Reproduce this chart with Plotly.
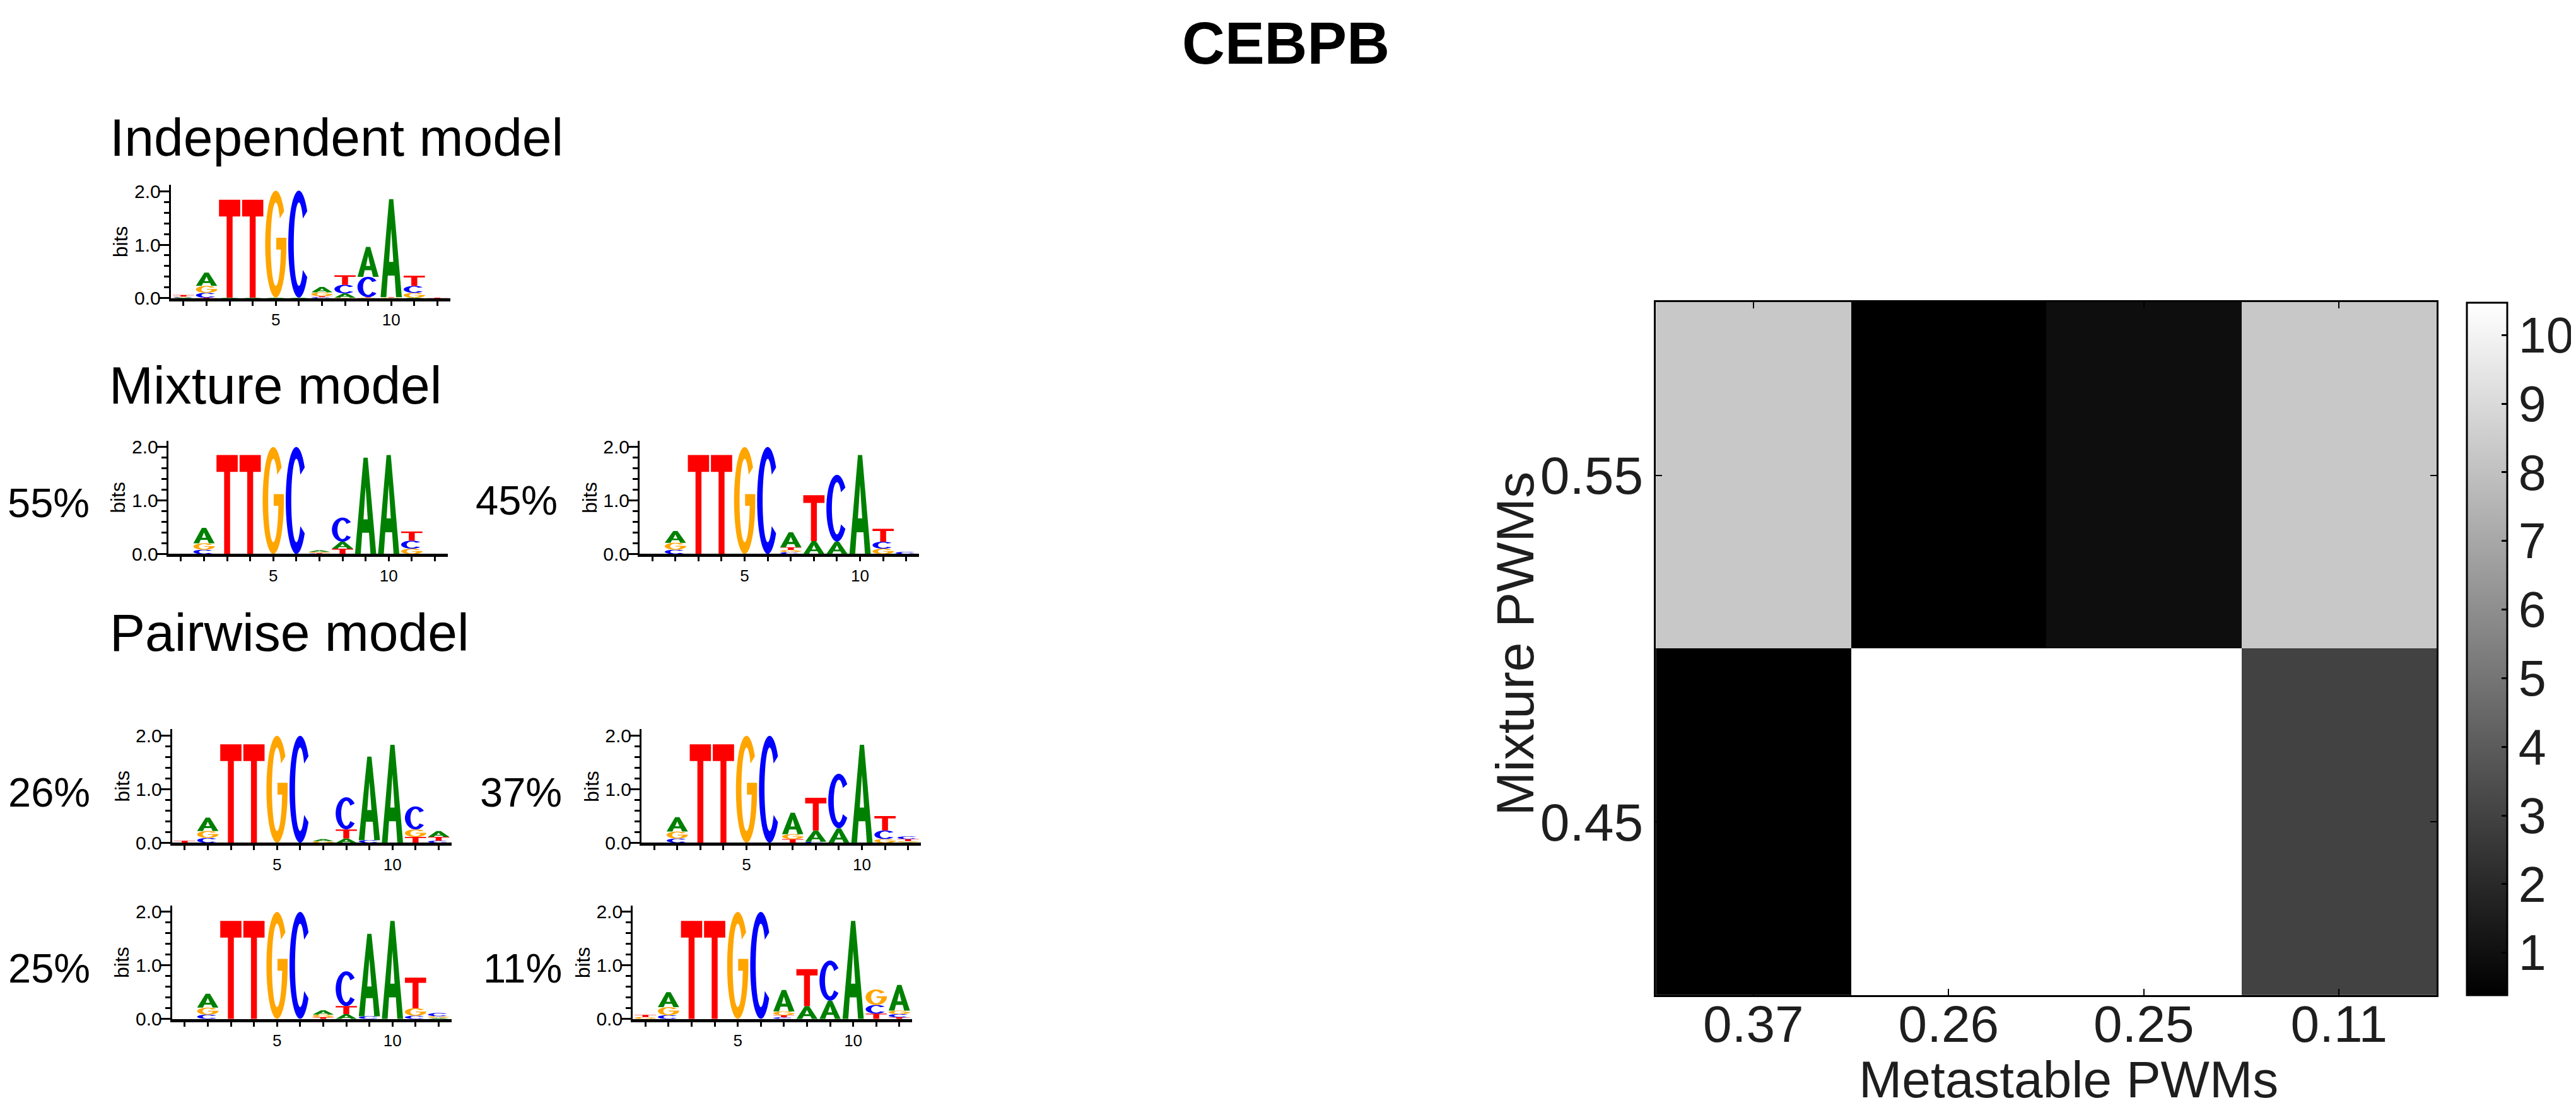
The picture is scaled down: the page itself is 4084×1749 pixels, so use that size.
import math
import plotly.graph_objects as go

W, H = 4084, 1749
FONT = "Liberation Sans, Arial, Helvetica, sans-serif"

# ---- sequence logo data (bits per letter, positions 1..12) ----
positions = list(range(1, 13))

ind_A = [0.01, 0.25, 0.01, 0.01, 0.01, 0.01, 0.10, 0.08, 0.56, 1.83, 0.01, 0.0]
ind_C = [0.01, 0.09, 0.0, 0.0, 0.0, 2.0, 0.02, 0.16, 0.38, 0.0, 0.13, 0.0]
ind_G = [0.01, 0.13, 0.0, 0.0, 2.0, 0.0, 0.07, 0.01, 0.01, 0.01, 0.09, 0.0]
ind_T = [0.03, 0.01, 1.83, 1.83, 0.0, 0.0, 0.02, 0.18, 0.01, 0.01, 0.19, 0.01]

mix1_A = [0.0, 0.29, 0.0, 0.0, 0.0, 0.0, 0.03, 0.13, 1.80, 1.85, 0.0, 0.0]
mix1_C = [0.0, 0.08, 0.0, 0.0, 0.0, 2.0, 0.01, 0.45, 0.0, 0.0, 0.15, 0.0]
mix1_G = [0.0, 0.12, 0.0, 0.0, 2.0, 0.0, 0.02, 0.0, 0.0, 0.0, 0.10, 0.0]
mix1_T = [0.0, 0.0, 1.85, 1.85, 0.0, 0.0, 0.01, 0.10, 0.0, 0.0, 0.17, 0.0]

mix2_A = [0.0, 0.22, 0.0, 0.0, 0.0, 0.0, 0.28, 0.24, 0.23, 1.85, 0.0, 0.0]
mix2_C = [0.0, 0.08, 0.0, 0.0, 0.0, 2.0, 0.035, 0.0, 1.25, 0.0, 0.13, 0.04]
mix2_G = [0.0, 0.13, 0.0, 0.0, 2.0, 0.0, 0.04, 0.0, 0.0, 0.0, 0.10, 0.0]
mix2_T = [0.0, 0.0, 1.85, 1.85, 0.0, 0.0, 0.05, 0.86, 0.0, 0.0, 0.24, 0.0]

pw1_A = [0.0, 0.25, 0.0, 0.0, 0.0, 0.0, 0.04, 0.08, 1.56, 1.83, 0.0, 0.11]
pw1_C = [0.0, 0.09, 0.0, 0.0, 0.0, 2.0, 0.0, 0.60, 0.05, 0.0, 0.43, 0.04]
pw1_G = [0.0, 0.13, 0.0, 0.0, 2.0, 0.0, 0.03, 0.0, 0.0, 0.0, 0.14, 0.0]
pw1_T = [0.04, 0.0, 1.84, 1.84, 0.0, 0.0, 0.0, 0.17, 0.0, 0.0, 0.11, 0.07]

pw2_A = [0.0, 0.27, 0.0, 0.0, 0.0, 0.0, 0.40, 0.21, 0.27, 1.83, 0.0, 0.01]
pw2_C = [0.0, 0.08, 0.0, 0.0, 0.0, 2.0, 0.0, 0.02, 1.02, 0.0, 0.16, 0.05]
pw2_G = [0.0, 0.13, 0.0, 0.0, 2.0, 0.0, 0.09, 0.0, 0.0, 0.0, 0.07, 0.02]
pw2_T = [0.0, 0.0, 1.84, 1.84, 0.0, 0.0, 0.07, 0.61, 0.0, 0.0, 0.27, 0.04]

pw3_A = [0.0, 0.26, 0.0, 0.0, 0.0, 0.0, 0.08, 0.09, 1.54, 1.83, 0.0, 0.02]
pw3_C = [0.0, 0.08, 0.0, 0.0, 0.0, 2.0, 0.0, 0.65, 0.05, 0.0, 0.06, 0.06]
pw3_G = [0.0, 0.13, 0.0, 0.0, 2.0, 0.0, 0.05, 0.0, 0.0, 0.0, 0.14, 0.03]
pw3_T = [0.0, 0.0, 1.83, 1.83, 0.0, 0.0, 0.03, 0.15, 0.0, 0.0, 0.57, 0.0]

pw4_A = [0.0, 0.28, 0.0, 0.0, 0.0, 0.0, 0.40, 0.24, 0.34, 1.83, 0.0, 0.48]
pw4_C = [0.0, 0.07, 0.0, 0.0, 0.0, 2.0, 0.03, 0.0, 0.75, 0.0, 0.16, 0.06]
pw4_G = [0.035, 0.15, 0.0, 0.0, 2.0, 0.0, 0.07, 0.0, 0.0, 0.0, 0.29, 0.065]
pw4_T = [0.04, 0.0, 1.83, 1.83, 0.0, 0.0, 0.04, 0.69, 0.0, 0.0, 0.10, 0.03]

weights = ["55%", "45%", "26%", "37%", "25%", "11%"]
section_titles = ["Independent model", "Mixture model", "Pairwise model"]

# ---- heatmap data ----
metastable = ["0.37", "0.26", "0.25", "0.11"]
mixture = ["0.45", "0.55"]
divergence = [
    [0.38, 10.47, 10.47, 3.0],
    [8.3, 0.38, 0.95, 8.3],
]

COLORS = {"A": "#008000", "C": "#0000ff", "G": "#ffa500", "T": "#ff0000"}


def arc(cx, cy, rx, ry, a0, a1, n=40):
    pts = []
    for i in range(n + 1):
        a = math.radians(a0 + (a1 - a0) * i / n)
        pts.append((cx + rx * math.cos(a), cy + ry * math.sin(a)))
    return pts


# letter outlines in a unit box
GLYPHS = {
    "T": ([[(0, 1), (1, 1), (1, 0.83), (0.64, 0.83), (0.64, 0), (0.36, 0), (0.36, 0.83), (0, 0.83)]], "nonzero"),
    "A": ([[(0, 0), (0.27, 0), (0.34, 0.22), (0.66, 0.22), (0.73, 0), (1, 0), (0.6, 1), (0.4, 1)],
           [(0.40, 0.36), (0.60, 0.36), (0.5, 0.70)]], "evenodd"),
    "C": ([arc(0.5, 0.5, 0.5, 0.5, 38, 322) + arc(0.5, 0.5, 0.24, 0.39, 322, 38)], "nonzero"),
    "G": ([arc(0.5, 0.5, 0.5, 0.5, 38, 360)
           + [(1.0, 0.56), (0.52, 0.56), (0.52, 0.45), (0.74, 0.45)]
           + arc(0.5, 0.5, 0.24, 0.39, 340, 38)], "nonzero"),
}


def letter_path(letter, pos, y0, h):
    x0, w = pos - 0.46, 0.92
    out = ""
    for poly in GLYPHS[letter][0]:
        pts = ["%.4f,%.4f" % (x0 + u * w, y0 + v * h) for u, v in poly]
        out += "M" + "L".join(pts) + "Z"
    return out


def sfx(n):
    return "" if n == 1 else str(n)


BIT_PX = 86
YMAX = 2.12
LOGO_W = 445

logos = [
    (ind_A, ind_C, ind_G, ind_T, 264, 465),
    (mix1_A, mix1_C, mix1_G, mix1_T, 260, 876),
    (mix2_A, mix2_C, mix2_G, mix2_T, 1011, 876),
    (pw1_A, pw1_C, pw1_G, pw1_T, 266, 1340),
    (pw2_A, pw2_C, pw2_G, pw2_T, 1014, 1340),
    (pw3_A, pw3_C, pw3_G, pw3_T, 266, 1623),
    (pw4_A, pw4_C, pw4_G, pw4_T, 1000, 1623),
]

fig = go.Figure()
shapes = []
annotations = []
layout_axes = {}

for n, (a, c, g, t, left, base) in enumerate(logos, start=1):
    s = sfx(n)
    fig.add_trace(go.Scatter(x=[None], y=[None], xaxis="x" + s, yaxis="y" + s,
                             showlegend=False, hoverinfo="skip"))
    for i, pos in enumerate(positions):
        stack = sorted([("A", a[i]), ("C", c[i]), ("G", g[i]), ("T", t[i])], key=lambda kv: kv[1])
        y0 = 0.0
        for letter, h in stack:
            if h <= 0.005:
                continue
            shapes.append(dict(type="path", path=letter_path(letter, pos, y0, h),
                               xref="x" + s, yref="y" + s, fillcolor=COLORS[letter],
                               line=dict(width=0), fillrule=GLYPHS[letter][1], layer="above"))
            y0 += h
    top = base - YMAX * BIT_PX
    layout_axes["xaxis" + s] = dict(
        domain=[left / W, (left + LOGO_W) / W], anchor="y" + s, range=[0.45, 12.55],
        showline=True, linecolor="black", linewidth=5, ticks="outside", ticklen=7,
        tickwidth=3, tickcolor="black", tickvals=positions,
        ticktext=[str(p) if p in (5, 10) else "" for p in positions],
        tickfont=dict(size=26, color="black"), showgrid=False, zeroline=False, fixedrange=True)
    layout_axes["yaxis" + s] = dict(
        domain=[1 - base / H, 1 - top / H], anchor="x" + s, range=[0, YMAX],
        showline=True, linecolor="black", linewidth=3, ticks="outside", ticklen=16,
        tickwidth=3, tickcolor="black", tickvals=[0, 1, 2], ticktext=["0.0", "1.0", "2.0"],
        ticklabelstandoff=-9,
        minor=dict(tickvals=[0.2, 0.4, 0.6, 0.8, 1.2, 1.4, 1.6, 1.8], ticks="outside",
                   ticklen=8, tickwidth=3, tickcolor="black", showgrid=False),
        tickfont=dict(size=30, color="black"), showgrid=False, zeroline=False, fixedrange=True)
    annotations.append(dict(text="bits", x=(left - 80) / W, y=1 - (base - 91) / H,
                            xref="paper", yref="paper", textangle=-90, showarrow=False,
                            font=dict(size=32, color="black"), xanchor="center", yanchor="middle"))

# mixture weights next to each logo
weight_pos = [(137, 794), (882, 790), (138, 1259), (889, 1259), (138, 1542), (889, 1542)]
for txt, (xr, yc) in zip(weights, weight_pos):
    annotations.append(dict(text=txt, x=xr / W, y=1 - yc / H, xref="paper", yref="paper",
                            showarrow=False, xanchor="right", yanchor="middle",
                            font=dict(size=65, color="black")))

for txt, (xl, yc) in zip(section_titles, [(165, 207), (164, 605), (165, 1002)]):
    annotations.append(dict(text=txt, x=xl / W, y=1 - yc / H, xref="paper", yref="paper",
                            showarrow=False, xanchor="left", yanchor="middle",
                            font=dict(size=84, color="black")))

# ---- heatmap ----
fig.add_trace(go.Heatmap(
    z=divergence, x=metastable, y=mixture, xaxis="x8", yaxis="y8",
    colorscale=[[0, "black"], [1, "white"]], zmin=0.38, zmax=10.47,
    hoverinfo="skip",
    colorbar=dict(x=3922 / W, xanchor="left", xpad=0, y=1 - 1585 / H, yanchor="bottom", ypad=0,
                  len=(1585 - 472) / H, lenmode="fraction", thickness=64, thicknessmode="pixels",
                  outlinewidth=3, outlinecolor="black", tickvals=list(range(1, 11)),
                  ticks="inside", ticklen=10, tickwidth=3, tickcolor="black",
                  tickfont=dict(size=79, color="#1e1e1e")),
))
layout_axes["xaxis8"] = dict(
    domain=[2630 / W, 3874 / W], anchor="y8", type="category", showline=True, linecolor="black",
    linewidth=3, mirror="ticks", ticks="inside", ticklen=10, tickwidth=2, tickcolor="black",
    ticklabelstandoff=-28,
    tickfont=dict(size=82, color="#1e1e1e"), showgrid=False, zeroline=False, fixedrange=True)
layout_axes["yaxis8"] = dict(
    domain=[1 - 1585 / H, 1 - 471 / H], anchor="x8", type="category", showline=True,
    linecolor="black", linewidth=3, mirror="ticks", ticks="inside", ticklen=10, tickwidth=2,
    tickcolor="black", tickfont=dict(size=84, color="#1e1e1e"), showgrid=False, zeroline=False,
    fixedrange=True)

annotations.append(dict(text="Metastable PWMs", x=3288 / W, y=1 - 1720 / H, xref="paper", yref="paper",
                        showarrow=False, xanchor="center", yanchor="middle",
                        font=dict(size=82, color="#1e1e1e")))
annotations.append(dict(text="Mixture PWMs", x=2405 / W, y=1 - 1020 / H, xref="paper", yref="paper",
                        showarrow=False, textangle=-90, xanchor="center", yanchor="middle",
                        font=dict(size=84, color="#1e1e1e")))
annotations.append(dict(text="<b>CEBPB</b>", x=2040 / W, y=1, xref="paper", yref="paper",
                        showarrow=False, xanchor="center", yanchor="top",
                        font=dict(size=94, color="black")))

fig.update_layout(
    width=W, height=H, margin=dict(l=0, r=0, t=0, b=0),
    paper_bgcolor="white", plot_bgcolor="white",
    font=dict(family=FONT, color="black"),
    showlegend=False, shapes=shapes, annotations=annotations,
    **layout_axes,
)

fig.write_html("out.html")
